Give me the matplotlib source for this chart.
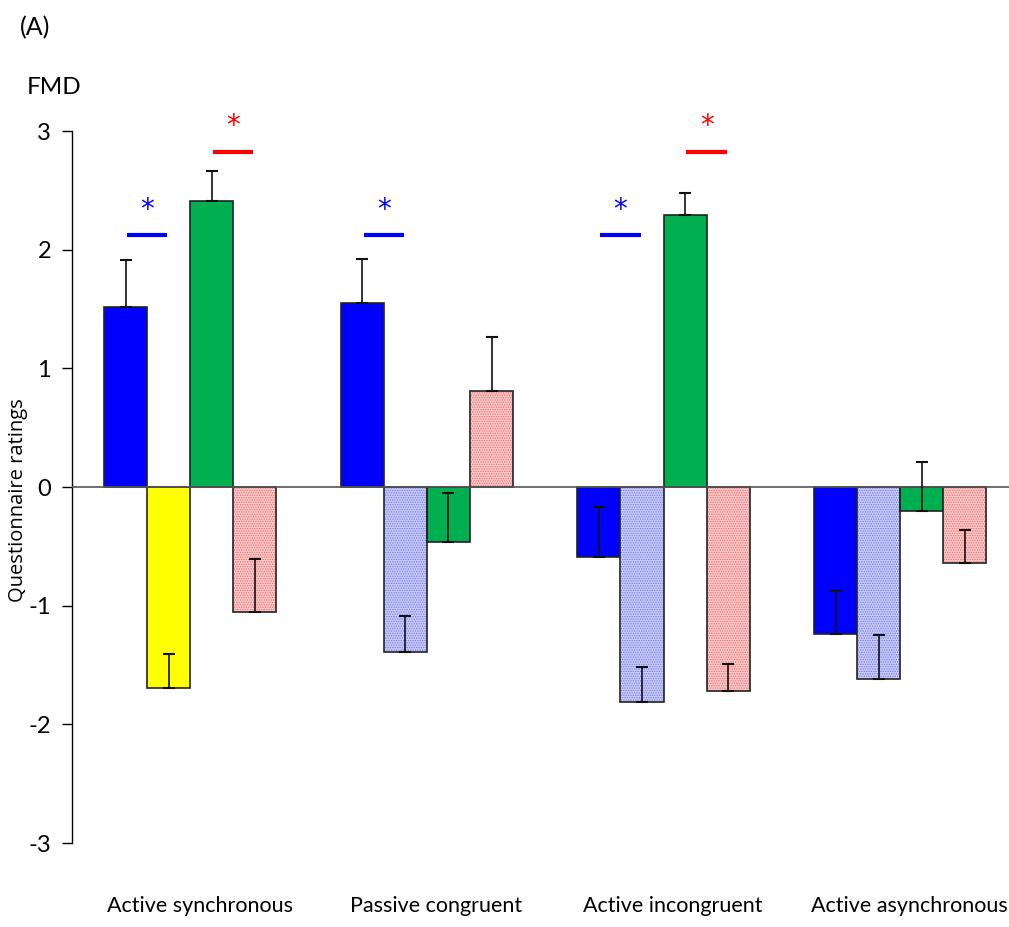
import numpy as np
import matplotlib.pyplot as plt

plt.rcParams['font.family'] = ['Lato', 'DejaVu Sans']
plt.rcParams['hatch.linewidth'] = 0.6

# data
conditions = ['Active synchronous', 'Passive congruent', 'Active incongruent', 'Active asynchronous']
blue_vals = [1.52, 1.55, -0.59, -1.24]
blue_err = [0.39, 0.37, 0.42, 0.36]
second_vals = [-1.69, -1.39, -1.81, -1.62]   # yellow in first group, lavender hatched in the rest
second_err = [0.28, 0.30, 0.29, 0.37]
green_vals = [2.41, -0.46, 2.29, -0.20]
green_err = [0.25, 0.41, 0.19, 0.41]
pink_vals = [-1.05, 0.81, -1.72, -0.64]
pink_err = [0.44, 0.45, 0.23, 0.28]

# significance marks: (group, boundary between bars, colour, level)
sig_marks = [(0, 1, 'blue', 2.12), (0, 3, 'red', 2.82),
             (1, 1, 'blue', 2.12),
             (2, 1, 'blue', 2.12), (2, 3, 'red', 2.82)]

fig = plt.figure(figsize=(10.09, 9.27), dpi=100)
ax = fig.add_axes([72/1009, 1-843/927, 1-72/1009, (843-131)/927])

x = np.arange(len(conditions))
w = 0.182

def draw(xpos, vals, errs, face, hatch=None, hcol=None):
    if hatch:
        ax.bar(xpos, vals, w, color=face, edgecolor=hcol, hatch=hatch, linewidth=0, zorder=2)
        ax.bar(xpos, vals, w, fill=False, edgecolor='#222222', linewidth=1.2, zorder=3)
    else:
        ax.bar(xpos, vals, w, color=face, edgecolor='#222222', linewidth=1.2, zorder=2)
    ax.errorbar(xpos, vals, yerr=[np.zeros(len(vals)), errs], fmt='none',
                ecolor='#111111', elinewidth=1.2, capsize=4, capthick=1.5, zorder=4)

draw(x - 1.5*w, blue_vals, blue_err, '#0000ff')
draw(x[:1] - 0.5*w, second_vals[:1], second_err[:1], '#ffff00')
draw(x[1:] - 0.5*w, second_vals[1:], second_err[1:], '#c9cbf7', '.......', '#6f74ee')
draw(x + 0.5*w, green_vals, green_err, '#00b050')
draw(x + 1.5*w, pink_vals, pink_err, '#f9c9c9', '.......', '#f06a6a')

for g, b, c, lvl in sig_marks:
    xc = g + (b - 2) * w
    ax.plot([xc - 0.085, xc + 0.085], [lvl, lvl], color=c, lw=3, solid_capstyle='butt', zorder=5)
    ax.text(xc, lvl + 0.1, '*', color=c, fontsize=20, ha='center', va='bottom',
            family='DejaVu Sans')

ax.axhline(0, color='#555555', lw=1.2, zorder=3)
ax.set_xlim(-0.5, 3.46)
ax.set_ylim(-3, 3)
ax.set_yticks([-3, -2, -1, 0, 1, 2, 3])
ax.set_yticklabels(['-3', '-2', '-1', '0', '1', '2', '3'], fontsize=17)
ax.tick_params(axis='y', direction='out', length=7, width=1, pad=8)
ax.set_xticks([])
for s in ['top', 'right', 'bottom']:
    ax.spines[s].set_visible(False)
ax.spines['left'].set_linewidth(1)

for i, lab in enumerate(conditions):
    ax.text(x[i] + 0.04, -3.53, lab, ha='center', va='center', fontsize=15.5)

fig.text(18/1009, 1-500/927, 'Questionnaire ratings', fontsize=14.5, rotation=90,
         va='center', ha='center', family=['Open Sans', 'DejaVu Sans'])
fig.text(27/1009, 1-88/927, 'FMD', fontsize=17.5, va='center', ha='left')
fig.text(20/1009, 1-28/927, '(A)', fontsize=18, va='center', ha='left')

fig.savefig('out.png', dpi=100)
